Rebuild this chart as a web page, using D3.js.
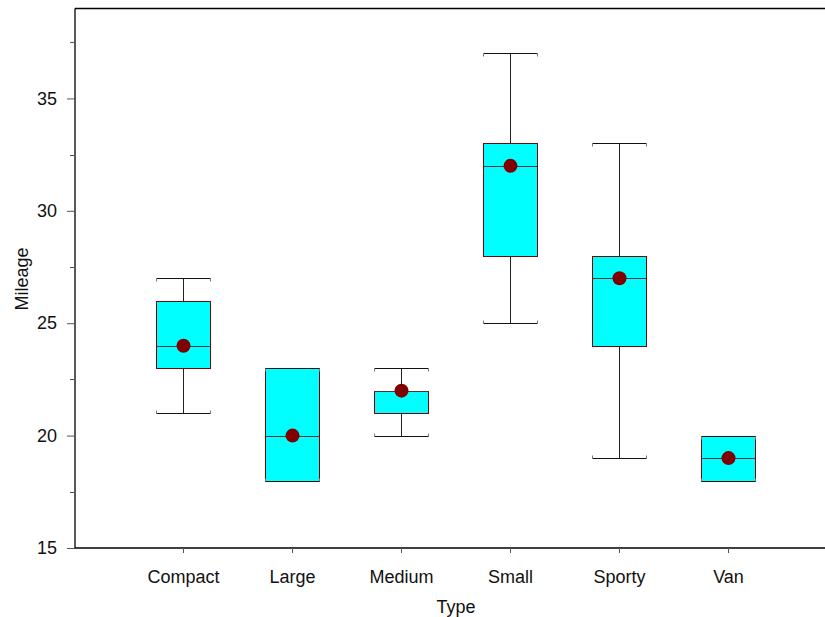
<!DOCTYPE html>
<html>
<head>
<meta charset="utf-8">
<script src="https://cdn.jsdelivr.net/npm/d3@7"></script>
<style>
  html, body { margin: 0; padding: 0; background: #fff; }
  svg { display: block; font-family: "Liberation Sans", Arial, sans-serif; }
</style>
</head>
<body>
<svg id="chart" width="825" height="617"></svg>
<script>
// Mileage by vehicle type: box summaries and mean markers
const types     = ["Compact", "Large", "Medium", "Small", "Sporty", "Van"];
const whiskerLo = [21, 18, 20, 25, 19, 18];
const q1        = [23, 18, 21, 28, 24, 18];
const medians   = [24, 20, 22, 32, 27, 19];
const q3        = [26, 23, 22, 33, 28, 20];
const whiskerHi = [27, 23, 23, 37, 33, 20];
const means     = [24, 20, 22, 32, 27, 19];
const yMajorTicks = [15, 20, 25, 30, 35];
const yMinorTicks = [17.5, 22.5, 27.5, 32.5, 37.5];

const svg = d3.select("#chart");
const plotLeft = 75, plotTop = 8.5, plotBottom = 548;
const step = 109;
const fontSize = 18;

const x = d3.scaleLinear().domain([0, types.length + 1]).range([74, 74 + step * (types.length + 1)]);
const y = d3.scaleLinear().domain([15, 39]).range([plotBottom, plotTop]);
const halfW = 27;

const rows = types.map((t, i) => ({
  t, i, lo: whiskerLo[i], q1: q1[i], med: medians[i], q3: q3[i], hi: whiskerHi[i], mean: means[i]
}));

// frame: top rule
svg.append("line").attr("x1", plotLeft).attr("x2", 825).attr("y1", plotTop).attr("y2", plotTop)
  .attr("stroke", "#000").attr("stroke-width", 1.3);

// y axis with major labelled ticks and minor ticks
const yAxis = svg.append("g").attr("transform", `translate(${plotLeft},0)`)
  .call(d3.axisLeft(y).tickValues(yMajorTicks).tickSize(8).tickPadding(10).tickFormat(d3.format("d")));
yAxis.select(".domain").attr("d", `M0,${plotTop}V${plotBottom}`).attr("stroke-width", 1.3);
yAxis.selectAll(".tick text").attr("font-size", fontSize).attr("fill", "#111");
yAxis.selectAll(".tick line").attr("stroke", "#555");
svg.append("g").attr("transform", `translate(${plotLeft},0)`)
  .selectAll("line").data(yMinorTicks).join("line")
  .attr("x1", -5).attr("x2", 0).attr("y1", d => Math.round(y(d)) + 0.5).attr("y2", d => Math.round(y(d)) + 0.5)
  .attr("stroke", "#555");

// x axis with category ticks
const xAxis = svg.append("g").attr("transform", `translate(0,${plotBottom})`)
  .call(d3.axisBottom(x).tickValues(d3.range(1, types.length + 1)).tickSize(5).tickPadding(17)
    .tickFormat(d => types[d - 1]));
xAxis.select(".domain").attr("d", `M${plotLeft},0H825`).attr("stroke-width", 1.3);
xAxis.selectAll(".tick text").attr("font-size", fontSize).attr("fill", "#111");
xAxis.selectAll(".tick line").attr("stroke", "#555");

// axis titles
svg.append("text").attr("x", 456).attr("y", 613)
  .attr("text-anchor", "middle").attr("font-size", fontSize).attr("fill", "#111").text("Type");
svg.append("text").attr("transform", `translate(28,279) rotate(-90)`)
  .attr("text-anchor", "middle").attr("font-size", fontSize).attr("fill", "#111").text("Mileage");

const g = svg.append("g");
const cx = d => Math.round(x(d.i + 1)) + 0.5;
const py = v => Math.round(y(v)) + 0.5;

// whisker stems
g.selectAll(".stem").data(rows).join("g").each(function(d) {
  const s = d3.select(this);
  if (d.hi > d.q3) s.append("line").attr("x1", cx(d)).attr("x2", cx(d)).attr("y1", py(d.hi)).attr("y2", py(d.q3)).attr("stroke", "#222");
  if (d.lo < d.q1) s.append("line").attr("x1", cx(d)).attr("x2", cx(d)).attr("y1", py(d.q1)).attr("y2", py(d.lo)).attr("stroke", "#222");
});

// boxes
g.selectAll(".box").data(rows).join("rect")
  .attr("x", d => cx(d) - halfW).attr("width", halfW * 2)
  .attr("y", d => py(d.q3)).attr("height", d => py(d.q1) - py(d.q3))
  .attr("fill", "#00ffff").attr("stroke", "#800000").attr("stroke-width", 1);

// medians
g.selectAll(".med").data(rows).join("line")
  .attr("x1", d => cx(d) - halfW).attr("x2", d => cx(d) + halfW)
  .attr("y1", d => py(d.med)).attr("y2", d => py(d.med))
  .attr("stroke", "#4f3333").attr("stroke-width", 1);

// whisker caps with short end ticks pointing toward the box
g.selectAll(".caps").data(rows).join("g").each(function(d) {
  const s = d3.select(this);
  [[d.hi, 3], [d.lo, -3]].forEach(([v, dir]) => {
    s.append("line").attr("x1", cx(d) - halfW).attr("x2", cx(d) + halfW)
      .attr("y1", py(v)).attr("y2", py(v)).attr("stroke", "#111");
    [-halfW, halfW].forEach(dx => {
      s.append("line").attr("x1", cx(d) + dx).attr("x2", cx(d) + dx)
        .attr("y1", py(v)).attr("y2", py(v) + dir).attr("stroke", "#777");
    });
  });
});

// mean markers
g.selectAll(".mean").data(rows).join("circle")
  .attr("cx", d => cx(d)).attr("cy", d => y(d.mean)).attr("r", 7)
  .attr("fill", "#800000");
</script>
</body>
</html>
